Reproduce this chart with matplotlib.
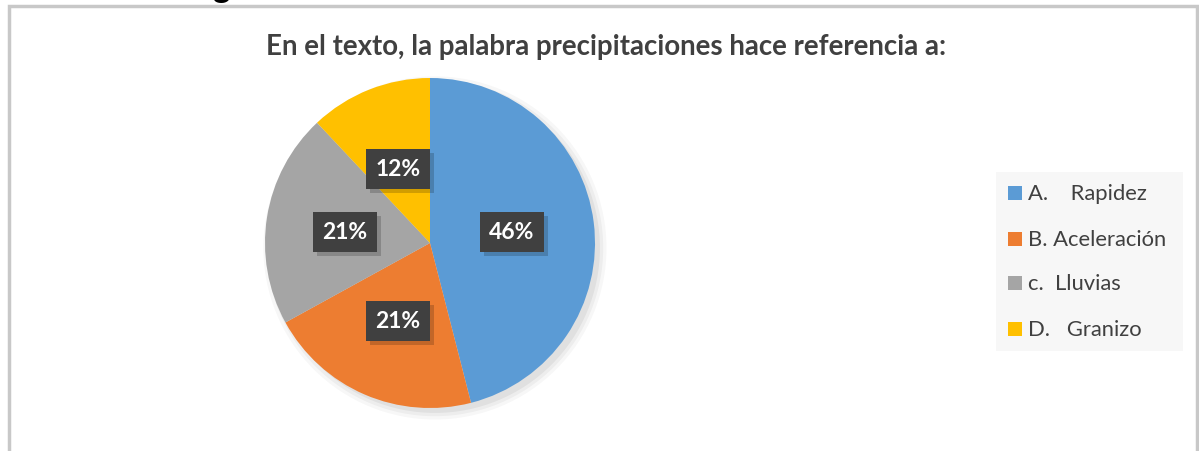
import matplotlib.pyplot as plt
from matplotlib.patches import Rectangle

# datos
categorias = ['A.    Rapidez', 'B. Aceleración', 'c.  Lluvias', 'D.   Granizo']
valores = [46, 21, 21, 12]
colores = ['#5b9bd5', '#ed7d31', '#a5a5a5', '#ffc000']
titulo = 'En el texto, la palabra precipitaciones hace referencia a:'

plt.rcParams['font.family'] = ['Lato', 'DejaVu Sans']

W, H = 1199, 452
fig = plt.figure(figsize=(W / 100, H / 100), dpi=100)

def caja(x0, y0, w, h, **kw):
    # rectangulo en pixeles (origen arriba-izquierda)
    fig.patches.append(Rectangle((x0 / W, 1 - (y0 + h) / H), w / W, h / H,
                                 transform=fig.transFigure, **kw))

# marco del gráfico
fig.patches.append(Rectangle((9 / W, -0.1), (1197 - 9) / W, 1.1 - 7 / H,
                             transform=fig.transFigure, facecolor='white',
                             edgecolor='#c8c8c8', linewidth=2.5, zorder=-5))

# trozo de texto cortado arriba
fig.text(212 / W, 1 + 2 / H, 'g', fontsize=24, fontweight='bold',
         color='black', ha='left', va='baseline')

fig.text(606 / W, 1 - 47 / H, titulo, fontsize=19.9, fontweight='bold',
         color='#404040', ha='center', va='center')

# pastel
cx, cy, r = 430, 244, 165
ax = fig.add_axes([(cx - r * 1.1) / W, (H - cy - r * 1.1) / H,
                   2.2 * r / W, 2.2 * r / H])
# sombra suave
for k, a in enumerate([0.05, 0.04, 0.03]):
    ax.add_patch(plt.Circle((0.03, -0.03), 1 + 0.02 * k, color='black',
                            alpha=a, lw=0, zorder=0))
wedges, _ = ax.pie(valores, colors=colores, startangle=90, counterclock=False,
                   radius=1, wedgeprops=dict(linewidth=0, zorder=2))
ax.set_xlim(-1.1, 1.1)
ax.set_ylim(-1.1, 1.1)

# etiquetas de datos
pos = [(512, 233), (398, 322), (345, 233), (398, 170)]
bw, bh = 64, 40
for v, (x, y) in zip(valores, pos):
    caja(x - bw / 2 + 4, y - bh / 2 + 4, bw, bh, facecolor='black',
         alpha=0.18, edgecolor='none', zorder=3)
    caja(x - bw / 2, y - bh / 2, bw, bh, facecolor='#404040',
         edgecolor='none', zorder=4)
    fig.text(x / W, 1 - y / H, f'{v}%', fontsize=16.5, fontweight='bold',
             color='white', ha='center', va='center', zorder=5)

# leyenda
caja(996, 173, 1183 - 996, 352 - 173, facecolor='#f7f7f7', edgecolor='none')
ys = [194, 240, 284, 330]
for lab, c, y in zip(categorias, colores, ys):
    caja(1008, y - 7, 14, 14, facecolor=c, edgecolor='none')
    fig.text(1028 / W, 1 - y / H, lab, fontsize=15.8, color='#404040',
             ha='left', va='center')

fig.savefig('out.png', dpi=100)
